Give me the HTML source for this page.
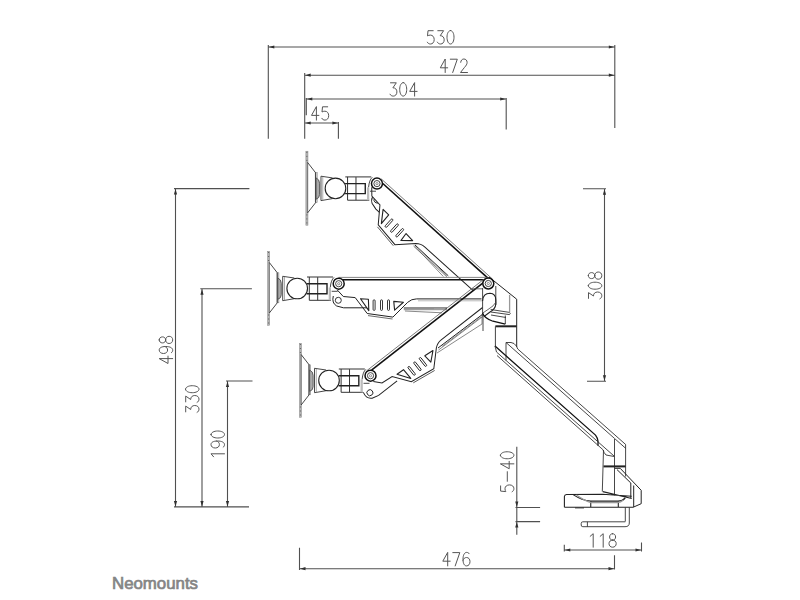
<!DOCTYPE html>
<html><head><meta charset="utf-8"><style>
html,body{margin:0;padding:0;background:#fff;width:800px;height:600px;overflow:hidden}
svg{position:absolute;left:0;top:0}
</style></head><body>
<svg width="800" height="600" viewBox="0 0 800 600">
<g fill="none" stroke="#505050" stroke-width="1.1"><path d="M268.3,45 V138.7 M304.7,73 V138.7 M614.8,45 V128 M268.3,47 H614.8 M304.7,75.2 H614.8 M306.3,98 V115.3 M306.3,99 H506.2 M506.2,98 V129.5 M304.7,123 H338.4 M338.4,122 V138.7"/><path d="M174,188.6 H249.4 M175.5,188.6 V506.9 M200.3,288.8 H251.9 M202,288.8 V506.9 M226,381 H252.5 M227.5,381 V506.9 M174,506.9 H249"/><path d="M583,188.7 H606 M604.5,188.7 V381.2 M587,381.2 H606"/><path d="M516.8,446.7 V534.8 M515.5,507.5 H540.1 M515.5,521.6 H540.1"/><path d="M299.5,547.7 V570 M299.5,568.7 H614.5 M614.5,555.2 V569.5"/><path d="M564.3,544.7 V551.5 M641.5,542.5 V551.5 M564.3,550 H641.5"/></g>
<g fill="#303030" stroke="none"><path d="M268.8,47 L274.3,45.4 L274.3,48.6 Z"/><path d="M614.3,47 L608.8,45.4 L608.8,48.6 Z"/><path d="M305.2,75.2 L310.7,73.60000000000001 L310.7,76.8 Z"/><path d="M614.3,75.2 L608.8,73.60000000000001 L608.8,76.8 Z"/><path d="M306.8,99 L312.3,97.4 L312.3,100.6 Z"/><path d="M505.7,99 L500.2,97.4 L500.2,100.6 Z"/><path d="M305.2,123 L310.7,121.4 L310.7,124.6 Z"/><path d="M337.9,123 L332.4,121.4 L332.4,124.6 Z"/><path d="M175.5,189.1 L173.9,194.6 L177.1,194.6 Z"/><path d="M175.5,506.4 L173.9,500.9 L177.1,500.9 Z"/><path d="M202,289.3 L200.4,294.8 L203.6,294.8 Z"/><path d="M202,506.4 L200.4,500.9 L203.6,500.9 Z"/><path d="M227.5,381.5 L225.9,387.0 L229.1,387.0 Z"/><path d="M227.5,506.4 L225.9,500.9 L229.1,500.9 Z"/><path d="M604.5,189.2 L602.9,194.7 L606.1,194.7 Z"/><path d="M604.5,380.7 L602.9,375.2 L606.1,375.2 Z"/><path d="M516.8,507 L515.1999999999999,501.5 L518.4,501.5 Z"/><path d="M516.8,522.1 L515.1999999999999,527.6 L518.4,527.6 Z"/><path d="M300,568.7 L305.5,567.1 L305.5,570.3000000000001 Z"/><path d="M614,568.7 L608.5,567.1 L608.5,570.3000000000001 Z"/><path d="M564.8,550 L570.3,548.4 L570.3,551.6 Z"/><path d="M641,550 L635.5,548.4 L635.5,551.6 Z"/></g>
<g fill="none" stroke="#555" stroke-width="1" stroke-linecap="round" stroke-linejoin="round"><g transform="translate(427,30.5)"><path transform="translate(0.00,0)" d="M6.2,0.2 L1,0.2 L0.5,5.4 C1.2,4.9 2.3,4.6 3.4,4.6 C5.7,4.6 7.2,6.5 7.2,9.1 C7.2,11.8 5.6,13.5 3.5,13.5 C2,13.5 0.9,12.8 0.3,11.7"/><path transform="translate(10.00,0)" d="M0.8,0.2 L6.6,0.2 L3.2,5.2 C5.6,5.1 7.2,6.8 7.2,9.3 C7.2,11.9 5.6,13.5 3.6,13.5 C2.1,13.5 0.9,12.8 0.3,11.6"/><path transform="translate(20.00,0)" d="M3.5,0 C1.5,0 0,2.9 0,6.75 C0,10.6 1.5,13.5 3.5,13.5 C5.5,13.5 7,10.6 7,6.75 C7,2.9 5.5,0 3.5,0 Z"/></g><g transform="translate(440.3,59)"><path transform="translate(0.00,0)" d="M4.9,13.5 L4.9,0 L0,8.8 L7.4,8.8"/><path transform="translate(10.00,0)" d="M0,0.2 L7,0.2 L2.4,13.5"/><path transform="translate(20.00,0)" d="M0.4,3.3 C0.6,1.2 1.9,0 3.6,0 C5.5,0 6.8,1.4 6.8,3.4 C6.8,5.2 5.8,6.6 4.2,8.4 L0.2,13.5 L7.2,13.5"/></g><g transform="translate(389.7,82.6)"><path transform="translate(0.00,0)" d="M0.8,0.2 L6.6,0.2 L3.2,5.2 C5.6,5.1 7.2,6.8 7.2,9.3 C7.2,11.9 5.6,13.5 3.6,13.5 C2.1,13.5 0.9,12.8 0.3,11.6"/><path transform="translate(10.00,0)" d="M3.5,0 C1.5,0 0,2.9 0,6.75 C0,10.6 1.5,13.5 3.5,13.5 C5.5,13.5 7,10.6 7,6.75 C7,2.9 5.5,0 3.5,0 Z"/><path transform="translate(20.00,0)" d="M4.9,13.5 L4.9,0 L0,8.8 L7.4,8.8"/></g><g transform="translate(311.5,106.6)"><path transform="translate(0.00,0)" d="M4.9,13.5 L4.9,0 L0,8.8 L7.4,8.8"/><path transform="translate(10.00,0)" d="M6.2,0.2 L1,0.2 L0.5,5.4 C1.2,4.9 2.3,4.6 3.4,4.6 C5.7,4.6 7.2,6.5 7.2,9.1 C7.2,11.8 5.6,13.5 3.5,13.5 C2,13.5 0.9,12.8 0.3,11.7"/></g><g transform="translate(442.8,552.4)"><path transform="translate(0.00,0)" d="M4.9,13.5 L4.9,0 L0,8.8 L7.4,8.8"/><path transform="translate(10.00,0)" d="M0,0.2 L7,0.2 L2.4,13.5"/><path transform="translate(20.00,0)" d="M6.4,1.3 C5.8,0.4 4.9,0 3.9,0 C1.6,0 0.2,2.7 0.2,7 C0.2,11.2 1.6,13.5 3.7,13.5 C5.8,13.5 7.2,11.7 7.2,9.2 C7.2,6.7 5.8,5.1 3.7,5.1 C2,5.1 0.7,6.2 0.2,8"/></g><g transform="translate(589,533.7)"><path transform="translate(0.00,0)" d="M1.2,2.6 L4.2,0 L4.2,13.5"/><path transform="translate(10.00,0)" d="M1.2,2.6 L4.2,0 L4.2,13.5"/><path transform="translate(20.00,0)" d="M3.6,0 C1.8,0 0.6,1.3 0.6,3.3 C0.6,5.2 1.8,6.4 3.6,6.4 C5.4,6.4 6.6,5.2 6.6,3.3 C6.6,1.3 5.4,0 3.6,0 Z M3.6,6.4 C1.5,6.4 0,7.8 0,9.9 C0,12.1 1.5,13.5 3.6,13.5 C5.7,13.5 7.2,12.1 7.2,9.9 C7.2,7.8 5.7,6.4 3.6,6.4 Z"/></g><g transform="translate(159.2,363.5) rotate(-90)"><path transform="translate(0.00,0)" d="M4.9,13.5 L4.9,0 L0,8.8 L7.4,8.8"/><path transform="translate(10.00,0)" d="M0.8,12.2 C1.4,13.1 2.3,13.5 3.3,13.5 C5.6,13.5 7,10.8 7,6.5 C7,2.3 5.6,0 3.5,0 C1.4,0 0,1.8 0,4.3 C0,6.8 1.4,8.4 3.5,8.4 C5.2,8.4 6.5,7.3 7,5.5"/><path transform="translate(20.00,0)" d="M3.6,0 C1.8,0 0.6,1.3 0.6,3.3 C0.6,5.2 1.8,6.4 3.6,6.4 C5.4,6.4 6.6,5.2 6.6,3.3 C6.6,1.3 5.4,0 3.6,0 Z M3.6,6.4 C1.5,6.4 0,7.8 0,9.9 C0,12.1 1.5,13.5 3.6,13.5 C5.7,13.5 7.2,12.1 7.2,9.9 C7.2,7.8 5.7,6.4 3.6,6.4 Z"/></g><g transform="translate(185.5,412.7) rotate(-90)"><path transform="translate(0.00,0)" d="M0.8,0.2 L6.6,0.2 L3.2,5.2 C5.6,5.1 7.2,6.8 7.2,9.3 C7.2,11.9 5.6,13.5 3.6,13.5 C2.1,13.5 0.9,12.8 0.3,11.6"/><path transform="translate(10.00,0)" d="M0.8,0.2 L6.6,0.2 L3.2,5.2 C5.6,5.1 7.2,6.8 7.2,9.3 C7.2,11.9 5.6,13.5 3.6,13.5 C2.1,13.5 0.9,12.8 0.3,11.6"/><path transform="translate(20.00,0)" d="M3.5,0 C1.5,0 0,2.9 0,6.75 C0,10.6 1.5,13.5 3.5,13.5 C5.5,13.5 7,10.6 7,6.75 C7,2.9 5.5,0 3.5,0 Z"/></g><g transform="translate(211,458) rotate(-90)"><path transform="translate(0.00,0)" d="M1.2,2.6 L4.2,0 L4.2,13.5"/><path transform="translate(10.00,0)" d="M0.8,12.2 C1.4,13.1 2.3,13.5 3.3,13.5 C5.6,13.5 7,10.8 7,6.5 C7,2.3 5.6,0 3.5,0 C1.4,0 0,1.8 0,4.3 C0,6.8 1.4,8.4 3.5,8.4 C5.2,8.4 6.5,7.3 7,5.5"/><path transform="translate(20.00,0)" d="M3.5,0 C1.5,0 0,2.9 0,6.75 C0,10.6 1.5,13.5 3.5,13.5 C5.5,13.5 7,10.6 7,6.75 C7,2.9 5.5,0 3.5,0 Z"/></g><g transform="translate(588.3,299.2) rotate(-90)"><path transform="translate(0.00,0)" d="M0.8,0.2 L6.6,0.2 L3.2,5.2 C5.6,5.1 7.2,6.8 7.2,9.3 C7.2,11.9 5.6,13.5 3.6,13.5 C2.1,13.5 0.9,12.8 0.3,11.6"/><path transform="translate(10.00,0)" d="M3.5,0 C1.5,0 0,2.9 0,6.75 C0,10.6 1.5,13.5 3.5,13.5 C5.5,13.5 7,10.6 7,6.75 C7,2.9 5.5,0 3.5,0 Z"/><path transform="translate(20.00,0)" d="M3.6,0 C1.8,0 0.6,1.3 0.6,3.3 C0.6,5.2 1.8,6.4 3.6,6.4 C5.4,6.4 6.6,5.2 6.6,3.3 C6.6,1.3 5.4,0 3.6,0 Z M3.6,6.4 C1.5,6.4 0,7.8 0,9.9 C0,12.1 1.5,13.5 3.6,13.5 C5.7,13.5 7.2,12.1 7.2,9.9 C7.2,7.8 5.7,6.4 3.6,6.4 Z"/></g><g transform="translate(500.4,492.1) rotate(-90)"><path transform="translate(0.00,0)" d="M6.2,0.2 L1,0.2 L0.5,5.4 C1.2,4.9 2.3,4.6 3.4,4.6 C5.7,4.6 7.2,6.5 7.2,9.1 C7.2,11.8 5.6,13.5 3.5,13.5 C2,13.5 0.9,12.8 0.3,11.7"/><path transform="translate(10.00,0)" d="M0.8,6.9 L10.4,6.9"/><path transform="translate(23.35,0)" d="M4.9,13.5 L4.9,0 L0,8.8 L7.4,8.8"/><path transform="translate(33.35,0)" d="M3.5,0 C1.5,0 0,2.9 0,6.75 C0,10.6 1.5,13.5 3.5,13.5 C5.5,13.5 7,10.6 7,6.75 C7,2.9 5.5,0 3.5,0 Z"/></g></g>
<g fill="none" stroke="#222" stroke-width="1"><g transform="rotate(42.0 488.3 300.6)"><path d="M333.3,296 Q331.5,303 336.7,306 L343.5,307.8 H367" fill="none" stroke="#222" stroke-width="1"/><circle cx="338.3" cy="300.3" r="3" fill="none" stroke="#222" stroke-width="0.9"/></g><g transform="rotate(42.0 488.3 283.5)"><path d="M338.7,277 H488.2 V298.9 H416.5 Q411.5,298.9 407.7,302.3 L392.9,317.1 L367.2,313.5 L355.2,297.6 L343.3,296.5 L337.3,290 Z" fill="#fff" stroke="none"/><path d="M338.7,277.4 H488.2" stroke="#777" stroke-width="0.9" fill="none"/><path d="M343,279.8 H488.2" stroke="#111" stroke-width="1.6" fill="none"/><path d="M337.3,290 L343.3,296.5 L355.2,297.6 L367.2,313.5 L392.9,317.1 L407.7,302.3 Q411.5,298.9 416.5,298.9 H481.5" fill="none" stroke="#222" stroke-width="1"/><path d="M368,315.6 L392.5,319" fill="none" stroke="#444" stroke-width="0.8"/><path d="M360.5,298.8 L368.4,299.2 L368.8,310.6 Z M393.75,301.4 L403.4,302.25 L394.6,310.1 Z" fill="none" stroke="#222" stroke-width="1.1" stroke-linejoin="round"/><rect x="373.1" y="299.8" width="2.0" height="10.6" rx="1.0" fill="none" stroke="#222" stroke-width="0.9"/><rect x="380.5" y="299.8" width="2.0" height="10.6" rx="1.0" fill="none" stroke="#222" stroke-width="0.9"/><rect x="387.5" y="299.8" width="2.0" height="10.6" rx="1.0" fill="none" stroke="#222" stroke-width="0.9"/></g><g transform="translate(38.27,-100.09)"><rect x="267.6" y="251.3" width="2.1" height="74" fill="#b4b4b4" stroke="#888" stroke-width="0.5"/><path d="M269.2,262.5 V313" stroke="#666" stroke-width="0.7" fill="none"/><path d="M268.6,252 V262 M268.6,314.5 V325" stroke="#555" stroke-width="0.9" stroke-dasharray="1 3" fill="none"/><rect x="276.9" y="272.8" width="2" height="30" fill="#d4d4d4" stroke="#777" stroke-width="0.5"/><path d="M269.3,262.5 L277.3,272.8 V302.8 L269.3,313" fill="none" stroke="#333" stroke-width="0.9"/><path d="M277.8,278 Q281.3,279.5 281.3,283.3 V294.7 Q281.3,298.3 277.8,299.3 Z" fill="#aaa" stroke="#444" stroke-width="0.8"/><path d="M282.7,276.3 V300.7 L294.3,298.7 M282.7,276.3 L294.3,278" fill="none" stroke="#333" stroke-width="0.9"/><path d="M284.5,277 V300.3" fill="none" stroke="#888" stroke-width="0.7"/><circle cx="297.2" cy="288.5" r="10.3" fill="#fff" stroke="#222" stroke-width="1.1"/><rect x="309.3" y="277" width="21.7" height="23.3" fill="#fff" stroke="none"/><path d="M307,277 H333 M309.3,277 V300.3 H331 M317.7,277.2 V300.2" stroke="#333" stroke-width="1" fill="none"/><rect x="328.7" y="287.5" width="2.3" height="12.8" fill="#bbb" stroke="none"/><path d="M306.8,283.7 H327 V293.7 H306.8" fill="none" stroke="#222" stroke-width="1.4"/><path d="M330.3,287.3 Q331,280 334,277.4 M331.7,291.3 H337.7" fill="none" stroke="#333" stroke-width="0.9"/></g><g transform="translate(38.27,-100.09)"><circle cx="338.7" cy="283.7" r="5.5" fill="#fff" stroke="#111" stroke-width="1.5"/><circle cx="338.7" cy="283.7" r="3.1" fill="none" stroke="#333" stroke-width="0.9"/><circle cx="338.7" cy="283.7" r="1.1" fill="none" stroke="#666" stroke-width="0.7"/></g><g transform="rotate(0.0 488.3 300.6)"><path d="M333.3,296 Q331.5,303 336.7,306 L343.5,307.8 H367" fill="none" stroke="#222" stroke-width="1"/><circle cx="338.3" cy="300.3" r="3" fill="none" stroke="#222" stroke-width="0.9"/></g><g transform="rotate(0.0 488.3 283.5)"><path d="M338.7,277.4 H488.2" stroke="#777" stroke-width="0.9" fill="none"/><path d="M343,279.8 H488.2" stroke="#111" stroke-width="1.6" fill="none"/><path d="M337.3,290 L343.3,296.5 L355.2,297.6 L367.2,313.5 L392.9,317.1 L407.7,302.3 Q411.5,298.9 416.5,298.9 H481.5" fill="none" stroke="#222" stroke-width="1"/><path d="M368,315.6 L392.5,319" fill="none" stroke="#444" stroke-width="0.8"/><path d="M360.5,298.8 L368.4,299.2 L368.8,310.6 Z M393.75,301.4 L403.4,302.25 L394.6,310.1 Z" fill="none" stroke="#222" stroke-width="1.1" stroke-linejoin="round"/><rect x="373.1" y="299.8" width="2.0" height="10.6" rx="1.0" fill="none" stroke="#222" stroke-width="0.9"/><rect x="380.5" y="299.8" width="2.0" height="10.6" rx="1.0" fill="none" stroke="#222" stroke-width="0.9"/><rect x="387.5" y="299.8" width="2.0" height="10.6" rx="1.0" fill="none" stroke="#222" stroke-width="0.9"/></g><g transform="translate(0.00,0.00)"><rect x="267.6" y="251.3" width="2.1" height="74" fill="#b4b4b4" stroke="#888" stroke-width="0.5"/><path d="M269.2,262.5 V313" stroke="#666" stroke-width="0.7" fill="none"/><path d="M268.6,252 V262 M268.6,314.5 V325" stroke="#555" stroke-width="0.9" stroke-dasharray="1 3" fill="none"/><rect x="276.9" y="272.8" width="2" height="30" fill="#d4d4d4" stroke="#777" stroke-width="0.5"/><path d="M269.3,262.5 L277.3,272.8 V302.8 L269.3,313" fill="none" stroke="#333" stroke-width="0.9"/><path d="M277.8,278 Q281.3,279.5 281.3,283.3 V294.7 Q281.3,298.3 277.8,299.3 Z" fill="#aaa" stroke="#444" stroke-width="0.8"/><path d="M282.7,276.3 V300.7 L294.3,298.7 M282.7,276.3 L294.3,278" fill="none" stroke="#333" stroke-width="0.9"/><path d="M284.5,277 V300.3" fill="none" stroke="#888" stroke-width="0.7"/><circle cx="297.2" cy="288.5" r="10.3" fill="#fff" stroke="#222" stroke-width="1.1"/><rect x="309.3" y="277" width="21.7" height="23.3" fill="#fff" stroke="none"/><path d="M307,277 H333 M309.3,277 V300.3 H331 M317.7,277.2 V300.2" stroke="#333" stroke-width="1" fill="none"/><rect x="328.7" y="287.5" width="2.3" height="12.8" fill="#bbb" stroke="none"/><path d="M306.8,283.7 H327 V293.7 H306.8" fill="none" stroke="#222" stroke-width="1.4"/><path d="M330.3,287.3 Q331,280 334,277.4 M331.7,291.3 H337.7" fill="none" stroke="#333" stroke-width="0.9"/></g><g transform="translate(0.00,0.00)"><circle cx="338.7" cy="283.7" r="5.5" fill="#fff" stroke="#111" stroke-width="1.5"/><circle cx="338.7" cy="283.7" r="3.1" fill="none" stroke="#333" stroke-width="0.9"/><circle cx="338.7" cy="283.7" r="1.1" fill="none" stroke="#666" stroke-width="0.7"/></g><g transform="rotate(-38.0 488.3 300.6)"><path d="M333.3,296 Q331.5,303 336.7,306 L343.5,307.8 H367" fill="none" stroke="#222" stroke-width="1"/><circle cx="338.3" cy="300.3" r="3" fill="none" stroke="#222" stroke-width="0.9"/></g><g transform="rotate(-38.0 488.3 283.5)"><path d="M338.7,277.4 H488.2" stroke="#777" stroke-width="0.9" fill="none"/><path d="M343,279.8 H488.2" stroke="#111" stroke-width="1.6" fill="none"/><path d="M337.3,290 L343.3,296.5 L355.2,297.6 L367.2,313.5 L392.9,317.1 L407.7,302.3 Q411.5,298.9 416.5,298.9 H469" fill="none" stroke="#222" stroke-width="1"/><path d="M368,315.6 L392.5,319" fill="none" stroke="#444" stroke-width="0.8"/><path d="M360.5,298.8 L368.4,299.2 L368.8,310.6 Z M393.75,301.4 L403.4,302.25 L394.6,310.1 Z" fill="none" stroke="#222" stroke-width="1.1" stroke-linejoin="round"/><rect x="373.1" y="299.8" width="2.0" height="10.6" rx="1.0" fill="none" stroke="#222" stroke-width="0.9"/><rect x="380.5" y="299.8" width="2.0" height="10.6" rx="1.0" fill="none" stroke="#222" stroke-width="0.9"/><rect x="387.5" y="299.8" width="2.0" height="10.6" rx="1.0" fill="none" stroke="#222" stroke-width="0.9"/></g><g transform="translate(31.82,92.00)"><rect x="267.6" y="251.3" width="2.1" height="74" fill="#b4b4b4" stroke="#888" stroke-width="0.5"/><path d="M269.2,262.5 V313" stroke="#666" stroke-width="0.7" fill="none"/><path d="M268.6,252 V262 M268.6,314.5 V325" stroke="#555" stroke-width="0.9" stroke-dasharray="1 3" fill="none"/><rect x="276.9" y="272.8" width="2" height="30" fill="#d4d4d4" stroke="#777" stroke-width="0.5"/><path d="M269.3,262.5 L277.3,272.8 V302.8 L269.3,313" fill="none" stroke="#333" stroke-width="0.9"/><path d="M277.8,278 Q281.3,279.5 281.3,283.3 V294.7 Q281.3,298.3 277.8,299.3 Z" fill="#aaa" stroke="#444" stroke-width="0.8"/><path d="M282.7,276.3 V300.7 L294.3,298.7 M282.7,276.3 L294.3,278" fill="none" stroke="#333" stroke-width="0.9"/><path d="M284.5,277 V300.3" fill="none" stroke="#888" stroke-width="0.7"/><circle cx="297.2" cy="288.5" r="10.3" fill="#fff" stroke="#222" stroke-width="1.1"/><rect x="309.3" y="277" width="21.7" height="23.3" fill="#fff" stroke="none"/><path d="M307,277 H333 M309.3,277 V300.3 H331 M317.7,277.2 V300.2" stroke="#333" stroke-width="1" fill="none"/><rect x="328.7" y="287.5" width="2.3" height="12.8" fill="#bbb" stroke="none"/><path d="M306.8,283.7 H327 V293.7 H306.8" fill="none" stroke="#222" stroke-width="1.4"/><path d="M330.3,287.3 Q331,280 334,277.4 M331.7,291.3 H337.7" fill="none" stroke="#333" stroke-width="0.9"/></g><g transform="translate(31.82,92.00)"><circle cx="338.7" cy="283.7" r="5.5" fill="#fff" stroke="#111" stroke-width="1.5"/><circle cx="338.7" cy="283.7" r="3.1" fill="none" stroke="#333" stroke-width="0.9"/><circle cx="338.7" cy="283.7" r="1.1" fill="none" stroke="#666" stroke-width="0.7"/></g><path d="M489,277 L516.7,299.2 V347" fill="none" stroke="#222" stroke-width="1"/><path d="M482.6,288 V316 M483,316 V331 M495.8,286 V305 M490.7,309.5 L509.5,312.4 Q511,313.5 509.5,314.6 L490.7,312 M491,315 L506,317.5 M505.3,315.5 V324" fill="none" stroke="#333" stroke-width="0.9"/><path d="M509.6,294.8 V312.4" fill="none" stroke="#999" stroke-width="1.3"/><path d="M482.6,301 Q483,293.3 490,293.3 Q495.8,293.5 495.8,300 V304 Q495.5,309 490,312 L484,316.5" fill="none" stroke="#222" stroke-width="1.1"/><path d="M496,302 Q494,306 488,309.5 L482.8,313" fill="none" stroke="#444" stroke-width="0.8"/><path d="M482.6,313 Q484,318 492.9,321.2 L505.3,324.1" fill="none" stroke="#111" stroke-width="1.2"/><path d="M495.4,326.3 H516.7" fill="none" stroke="#222" stroke-width="2"/><path d="M495.4,326.3 V346" fill="none" stroke="#444" stroke-width="1"/><path d="M471.8,288.8 H482.6" fill="none" stroke="#444" stroke-width="0.8"/><path d="M418,300.8 H482" fill="none" stroke="#888" stroke-width="0.6"/><path d="M403.75,308 H447" fill="none" stroke="#222" stroke-width="1"/><path d="M403.75,309.7 H447 M405,311 L442,312.8" fill="none" stroke="#555" stroke-width="0.7"/><path d="M434,308.9 H445" fill="none" stroke="#aaa" stroke-width="0.8"/><path d="M415,245 L448.3,275.8" fill="none" stroke="#222" stroke-width="1"/><path d="M413.6,246.2 L446.8,276.8 M414.2,245.5 L443.3,276.5" fill="none" stroke="#555" stroke-width="0.7"/><path d="M418,248.5 L447,275.6" fill="none" stroke="#888" stroke-width="1"/><path d="M438,348 L483,314" fill="none" stroke="#222" stroke-width="1"/><path d="M438.5,350 L483,316.3 M437,353 L482,324 V314" fill="none" stroke="#555" stroke-width="0.7"/><path d="M442,346.5 L481,317" fill="none" stroke="#888" stroke-width="1"/><path d="M506,342.5 Q512,342 514,343.5 Q517,346 517.75,349.01 L625.8,444.63 M506,342.5 L614.6,438.52 L625.8,448.43 M506,342.5 V360.41" fill="none" stroke="#333" stroke-width="0.9"/><path d="M495,346 L595.5,435.12 Q598,438.33 598,441.33 V445.8" fill="none" stroke="#111" stroke-width="1.3"/><path d="M495,346 L496.5,352 L614.2,456.17 M497,355.5 L602.9,449.67 Q604,453 606,455 L614.2,456.5" fill="none" stroke="#333" stroke-width="0.9"/><path d="M603.5,450 L602.3,491.6 M614.5,439 V495.3 M625.6,444.6 V476.5" fill="none" stroke="#333" stroke-width="0.9"/><path d="M603.5,466.4 H625.6" fill="none" stroke="#222" stroke-width="2"/><path d="M614.7,468.3 H620.2 L641.2,490.3 V503.7 L633.7,507 M617,469.6 L630.8,483 V498 M633.7,485.5 V507" fill="none" stroke="#222" stroke-width="1"/><path d="M602.5,494.3 L631.7,496.2 M602.8,491.6 L631.7,498.5 M564.4,507.3 V496.5 Q564.6,494.6 566.5,494.5 L602.5,494.3 M564.4,507.3 H633.7 M573.1,494.6 Q582,500.5 590.75,501.1 H618 Q622.5,501 625.3,498 M590.75,501.1 V507.3 M618.3,501 V507.3" fill="none" stroke="#222" stroke-width="1.1"/><path d="M576.5,495 Q584,500.6 591,502.6 H617 Q621,502.4 623.5,500" fill="none" stroke="#999" stroke-width="1.2"/><path d="M575,507.9 H584" fill="none" stroke="#333" stroke-width="1"/><path d="M625.3,507.3 V521.5 M629.3,507.3 V523 Q629.3,526.7 625,526.7 H582.8 Q581.2,526.7 581.2,525 V523.5 Q581.2,521.8 582.8,521.8 H625.3 M587.4,521.8 V526.7" fill="none" stroke="#333" stroke-width="0.9"/><circle cx="488.3" cy="283.5" r="5.5" fill="#fff" stroke="#111" stroke-width="1.5"/><circle cx="488.3" cy="283.5" r="3.1" fill="none" stroke="#333" stroke-width="0.9"/><circle cx="488.3" cy="283.5" r="1.1" fill="none" stroke="#666" stroke-width="0.7"/></g>
<text x="112" y="589.4" font-family="Liberation Sans" font-size="16.5" fill="#858585" stroke="#858585" stroke-width="0.7" textLength="86" lengthAdjust="spacingAndGlyphs">Neomounts</text>
</svg>
</body></html>
